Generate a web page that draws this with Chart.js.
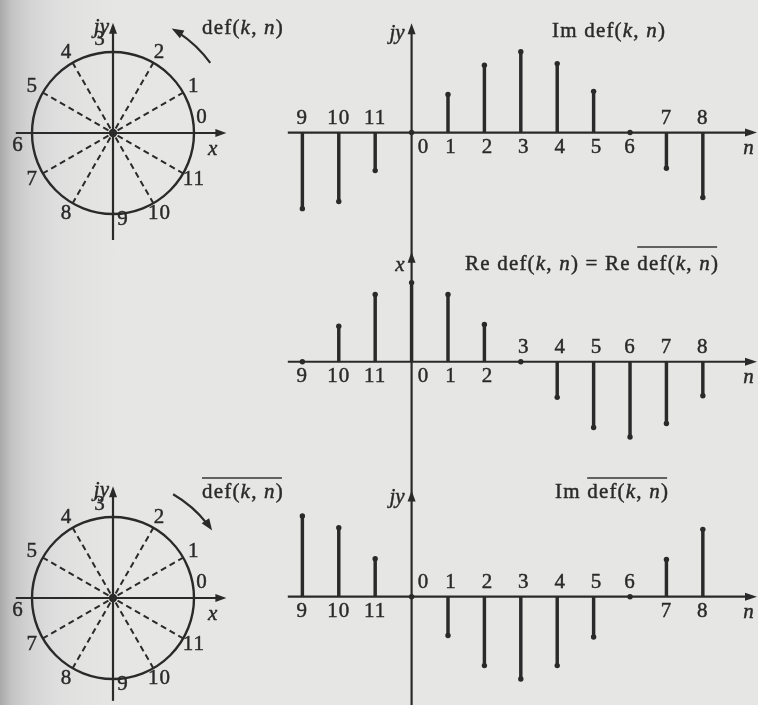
<!DOCTYPE html>
<html>
<head>
<meta charset="utf-8">
<title>def(k, n)</title>
<script src="https://cdn.jsdelivr.net/npm/chart.js"></script>
<style>
  html, body { margin: 0; padding: 0; }
  body {
    width: 758px; height: 705px; overflow: hidden; position: relative;
    background: linear-gradient(to right, #a9a9a9 0px, #c4c4c4 12px, #d4d4d4 30px, #dedede 55px, #e3e3e2 85px, #e6e6e5 120px);
  }
  canvas { position: absolute; }
</style>
</head>
<body>
<canvas id="circleTop" width="300" height="240" style="left:0;top:0"></canvas>
<canvas id="circleBottom" width="300" height="235" style="left:0;top:470px"></canvas>
<canvas id="stemIm" width="498" height="240" style="left:260px;top:0"></canvas>
<canvas id="stemRe" width="498" height="230" style="left:260px;top:240px"></canvas>
<canvas id="stemConj" width="498" height="235" style="left:260px;top:470px"></canvas>
<script>
// ---- data -------------------------------------------------------------
// sample index n (one full period of 12 samples)
const nIndex = [0, 1, 2, 3, 4, 5, 6, 7, 8, 9, 10, 11];
const nLabels = ['0', '1', '2', '3', '4', '5', '6', '7', '8', '9', '10', '11'];

// the 12 points on the unit circle (x = real part, y = imaginary part)
const rootRe = [1, 0.87, 0.5, 0, -0.5, -0.87, -1, -0.87, -0.5, 0, 0.5, 0.87];
const rootIm = [0, 0.5, 0.87, 1, 0.87, 0.5, 0, -0.5, -0.87, -1, -0.87, -0.5];

// stem heights for each n
const imDef  = [0, 0.48, 0.85, 1.02, 0.87, 0.52, 0, -0.45, -0.82, -0.96, -0.87, -0.48];
const reDef  = [1.0, 0.85, 0.47, 0, -0.45, -0.83, -0.95, -0.78, -0.43, 0, 0.45, 0.85];
const imConj = [0, -0.49, -0.87, -1.04, -0.87, -0.51, 0, 0.47, 0.85, 1.02, 0.87, 0.48];

// side of the n axis where each index label is written (true = above)
const imLabelAbove   = [false, false, false, false, false, false, false, true, true, true, true, true];
const reLabelAbove   = [false, false, false, true, true, true, true, true, true, false, false, false];
const conjLabelAbove = [true, true, true, true, true, true, true, false, false, false, false, false];

// ---- styling ----------------------------------------------------------
const FONT = '"Liberation Serif", "Times New Roman", serif';
const INK = '#2a2a2a';
const FS = 21;        // text size
const SPACING = 1.2;  // letter spacing of the serif text
const TEXT_STROKE = 0.45;

// indices 9, 10, 11 are drawn to the left of 0 (as -3, -2, -1)
const axisPos = n => (n > 8 ? n - 12 : n);

function setSpacing(ctx, px) {
  if ('letterSpacing' in ctx) ctx.letterSpacing = px + 'px';
}

function paintText(ctx, text, x, y) {
  ctx.fillText(text, x, y);
  ctx.lineWidth = TEXT_STROKE;
  ctx.strokeStyle = INK;
  ctx.strokeText(text, x, y);
}

// draws text made of roman / italic runs, returns the [x0, x1] of every run
function drawRich(ctx, parts, x, y) {
  const spans = [];
  ctx.save();
  ctx.fillStyle = INK;
  ctx.textAlign = 'left';
  ctx.textBaseline = 'alphabetic';
  setSpacing(ctx, SPACING);
  for (const [text, italic] of parts) {
    ctx.font = (italic ? 'italic ' : '') + FS + 'px ' + FONT;
    const w = ctx.measureText(text).width;
    paintText(ctx, text, x, y);
    spans.push([x, x + w]);
    x += w;
  }
  ctx.restore();
  return spans;
}

function drawCentered(ctx, text, x, y, italic) {
  ctx.save();
  ctx.fillStyle = INK;
  ctx.font = (italic ? 'italic ' : '') + FS + 'px ' + FONT;
  setSpacing(ctx, 1);
  ctx.textAlign = 'center';
  ctx.textBaseline = 'middle';
  paintText(ctx, text, x, y);
  ctx.restore();
}

// filled arrow head; angle is the pointing direction in canvas coordinates
function arrowHead(ctx, tx, ty, angle, len, half) {
  const c = Math.cos(angle), s = Math.sin(angle);
  ctx.beginPath();
  ctx.moveTo(tx, ty);
  ctx.lineTo(tx - len * c + half * s, ty - len * s - half * c);
  ctx.lineTo(tx - len * c - half * s, ty - len * s + half * c);
  ctx.closePath();
  ctx.fill();
}

function overline(ctx, x0, x1, y) {
  ctx.save();
  ctx.strokeStyle = '#363636';
  ctx.lineWidth = 1.7;
  ctx.beginPath();
  ctx.moveTo(x0, y);
  ctx.lineTo(x1, y);
  ctx.stroke();
  ctx.restore();
}

// ---- stem plots -------------------------------------------------------
const stemAxes = {
  id: 'stemAxes',
  beforeDatasetsDraw(chart, args, o) {
    const { ctx } = chart;
    const xs = chart.scales.x, ys = chart.scales.y;
    const x0 = xs.getPixelForValue(0), y0 = ys.getPixelForValue(0);
    ctx.save();
    ctx.strokeStyle = INK;
    ctx.fillStyle = INK;
    ctx.lineWidth = 2.2;
    // n axis
    const xl = xs.getPixelForValue(-3.4), xr = chart.width - 1;
    ctx.beginPath();
    ctx.moveTo(xl, y0);
    ctx.lineTo(xr - 8, y0);
    ctx.stroke();
    arrowHead(ctx, xr, y0, 0, 12, 4);
    // value axis (runs on through the panels below)
    const yt = ys.getPixelForValue(o.arrowAt);
    ctx.beginPath();
    ctx.moveTo(x0, o.lineFromTop ? 0 : yt + 6);
    ctx.lineTo(x0, chart.height);
    ctx.stroke();
    arrowHead(ctx, x0, yt, -Math.PI / 2, 11, 4);
    ctx.restore();
  },
  afterDatasetsDraw(chart, args, o) {
    const { ctx } = chart;
    const xs = chart.scales.x, ys = chart.scales.y;
    const x0 = xs.getPixelForValue(0), y0 = ys.getPixelForValue(0);
    const yt = ys.getPixelForValue(o.arrowAt);
    // index labels
    nIndex.forEach(n => {
      const x = xs.getPixelForValue(axisPos(n)) + (n === 0 ? 12 : (n >= 1 && n <= 5 ? 3 : 0));
      const y = y0 + (o.labelAbove[n] ? -14 : 15);
      drawCentered(ctx, nLabels[n], x, y, false);
    });
    drawCentered(ctx, 'n', chart.width - 9, y0 + 16, true);
    // value axis name
    ctx.save();
    ctx.fillStyle = INK;
    ctx.font = 'italic ' + FS + 'px ' + FONT;
    ctx.textAlign = 'right';
    ctx.textBaseline = 'alphabetic';
    paintText(ctx, o.axisName, x0 - 7, yt + o.axisNameDy);
    ctx.restore();
    // caption
    const spans = drawRich(ctx, o.title, o.titleX, o.titleY);
    if (o.overFrom !== undefined) {
      overline(ctx, spans[o.overFrom][0], spans[spans.length - 1][1] - 2, o.overY);
    }
  }
};

const X_UNIT = 37;   // pixels between neighbouring samples
const Y_UNIT = 82;   // pixels per unit amplitude
const ORIGIN_X = 150;

function stemChart(id, values, labelAbove, cfg) {
  const canvas = document.getElementById(id);
  const pts = nIndex.map(n => ({ x: axisPos(n), y: values[n] }));
  return new Chart(canvas, {
    type: 'bar',
    data: {
      datasets: [
        { type: 'bar', data: pts, backgroundColor: INK, barThickness: 2.8, borderWidth: 0 },
        { type: 'scatter', data: pts, pointRadius: 2.7, pointBackgroundColor: INK, pointBorderWidth: 0, showLine: false }
      ]
    },
    options: {
      responsive: false,
      animation: false,
      devicePixelRatio: 1,
      events: [],
      layout: { padding: 0 },
      plugins: {
        legend: { display: false },
        tooltip: { enabled: false },
        stemAxes: Object.assign({ labelAbove }, cfg)
      },
      scales: {
        x: {
          type: 'linear', display: false, offset: false,
          min: -ORIGIN_X / X_UNIT, max: (canvas.width - ORIGIN_X) / X_UNIT
        },
        y: {
          type: 'linear', display: false,
          min: -(canvas.height - cfg.originY) / Y_UNIT, max: cfg.originY / Y_UNIT
        }
      }
    },
    plugins: [stemAxes]
  });
}

stemChart('stemIm', imDef, imLabelAbove, {
  originY: 133, arrowAt: 1.38, lineFromTop: false,
  axisName: 'jy', axisNameDy: 16,
  title: [['Im def(', 0], ['k', 1], [', ', 0], ['n', 1], [')', 0]],
  titleX: 292, titleY: 37
});

stemChart('stemRe', reDef, reLabelAbove, {
  originY: 122, arrowAt: 1.39, lineFromTop: true,
  axisName: 'x', axisNameDy: 19,
  title: [['Re def(', 0], ['k', 1], [', ', 0], ['n', 1], [') = Re ', 0],
          ['def(', 0], ['k', 1], [', ', 0], ['n', 1], [')', 0]],
  titleX: 205, titleY: 30, overFrom: 5, overY: 7
});

stemChart('stemConj', imConj, conjLabelAbove, {
  originY: 127, arrowAt: 1.34, lineFromTop: true,
  axisName: 'jy', axisNameDy: 12,
  title: [['Im ', 0], ['def(', 0], ['k', 1], [', ', 0], ['n', 1], [')', 0]],
  titleX: 295, titleY: 28, overFrom: 1, overY: 8
});

// ---- unit circles -----------------------------------------------------
const R_UNIT = 81;   // pixels per unit radius
const RADIAL_GAP = 12;
// labels of the points lying on the axes are pushed off the axis lines
const axisLabelNudge = { 0: [8, -16], 3: [-13, -13], 6: [-14, 12], 9: [10, 5] };

const circleDecor = {
  id: 'circleDecor',
  beforeDatasetsDraw(chart, args, o) {
    const { ctx } = chart;
    const xs = chart.scales.x, ys = chart.scales.y;
    const cx = xs.getPixelForValue(0), cy = ys.getPixelForValue(0);
    const r = xs.getPixelForValue(1) - cx;
    ctx.save();
    ctx.strokeStyle = INK;
    ctx.fillStyle = INK;
    ctx.lineWidth = 2.4;
    ctx.beginPath();
    ctx.arc(cx, cy, r, 0, Math.PI * 2);
    ctx.stroke();
    ctx.lineWidth = 2.2;
    const xl = xs.getPixelForValue(-1.2), xr = xs.getPixelForValue(1.4);
    ctx.beginPath();
    ctx.moveTo(xl, cy);
    ctx.lineTo(xr - 8, cy);
    ctx.stroke();
    arrowHead(ctx, xr, cy, 0, 11, 4);
    const yt = ys.getPixelForValue(o.yTop), yb = ys.getPixelForValue(o.yBottom);
    ctx.beginPath();
    ctx.moveTo(cx, yb);
    ctx.lineTo(cx, yt + 8);
    ctx.stroke();
    arrowHead(ctx, cx, yt, -Math.PI / 2, 11, 4);
    ctx.restore();
  },
  afterDatasetsDraw(chart, args, o) {
    const { ctx } = chart;
    const xs = chart.scales.x, ys = chart.scales.y;
    const cx = xs.getPixelForValue(0), cy = ys.getPixelForValue(0);
    const unit = xs.getPixelForValue(1) - cx;
    ctx.save();
    ctx.fillStyle = INK;
    ctx.beginPath();
    ctx.arc(cx, cy, 4.2, 0, Math.PI * 2);
    ctx.fill();
    ctx.restore();

    // point numbers
    nIndex.forEach(k => {
      const px = xs.getPixelForValue(rootRe[k]), py = ys.getPixelForValue(rootIm[k]);
      let lx, ly;
      if (axisLabelNudge[k]) {
        lx = px + axisLabelNudge[k][0];
        ly = py + axisLabelNudge[k][1];
      } else {
        const d = Math.hypot(px - cx, py - cy);
        lx = px + RADIAL_GAP * (px - cx) / d;
        ly = py + RADIAL_GAP * (py - cy) / d;
      }
      drawCentered(ctx, nLabels[k], lx, ly, false);
    });

    // axis names
    ctx.save();
    ctx.fillStyle = INK;
    ctx.font = 'italic ' + FS + 'px ' + FONT;
    ctx.textBaseline = 'alphabetic';
    ctx.textAlign = 'right';
    paintText(ctx, 'jy', cx - 4, ys.getPixelForValue(o.yTop) + 10);
    ctx.textAlign = 'left';
    paintText(ctx, 'x', cx + 95, cy + 22);
    ctx.restore();

    // rotation arrow
    const R = 1.48 * unit;
    const a0 = o.arcFrom * Math.PI / 180, a1 = o.arcTo * Math.PI / 180;
    const ccw = a1 > a0;
    const stop = a1 + (ccw ? -1 : 1) * 0.07;
    ctx.save();
    ctx.strokeStyle = INK;
    ctx.fillStyle = INK;
    ctx.lineWidth = 2.2;
    ctx.beginPath();
    ctx.arc(cx, cy, R, -a0, -stop, ccw);
    ctx.stroke();
    const tx = cx + R * Math.cos(a1), ty = cy - R * Math.sin(a1);
    const dir = ccw ? Math.atan2(-Math.cos(a1), -Math.sin(a1)) : Math.atan2(Math.cos(a1), Math.sin(a1));
    arrowHead(ctx, tx, ty, dir, 12, 4.5);
    ctx.restore();

    // caption
    const spans = drawRich(ctx, [['def(', 0], ['k', 1], [', ', 0], ['n', 1], [')', 0]], cx + 89, cy - o.captionDy);
    if (o.barred) overline(ctx, spans[0][0], spans[spans.length - 1][1] - 2, cy - o.captionDy - 20);
  }
};

function circleChart(id, cfg) {
  const canvas = document.getElementById(id);
  const datasets = [];
  nIndex.forEach(k => {
    if (rootRe[k] === 0 || rootIm[k] === 0) return; // drawn by the axes
    datasets.push({
      type: 'scatter', showLine: true,
      data: [{ x: rootRe[k], y: rootIm[k] }, { x: 0, y: 0 }],
      borderColor: INK, borderWidth: 2, borderDash: [6, 4],
      pointRadius: 0
    });
  });
  return new Chart(canvas, {
    type: 'scatter',
    data: { datasets },
    options: {
      responsive: false,
      animation: false,
      devicePixelRatio: 1,
      events: [],
      layout: { padding: 0 },
      plugins: {
        legend: { display: false },
        tooltip: { enabled: false },
        circleDecor: cfg
      },
      scales: {
        x: { type: 'linear', display: false, min: -cfg.cx / R_UNIT, max: (canvas.width - cfg.cx) / R_UNIT },
        y: { type: 'linear', display: false, min: -(canvas.height - cfg.cy) / R_UNIT, max: cfg.cy / R_UNIT }
      }
    },
    plugins: [circleDecor]
  });
}

circleChart('circleTop', {
  cx: 113, cy: 133, yTop: 1.36, yBottom: -1.33,
  arcFrom: 35.8, arcTo: 60.7, captionDy: 99, barred: false
});

circleChart('circleBottom', {
  cx: 113, cy: 128, yTop: 1.38, yBottom: -1.27,
  arcFrom: 59.9, arcTo: 34.2, captionDy: 100, barred: true
});
</script>
</body>
</html>
